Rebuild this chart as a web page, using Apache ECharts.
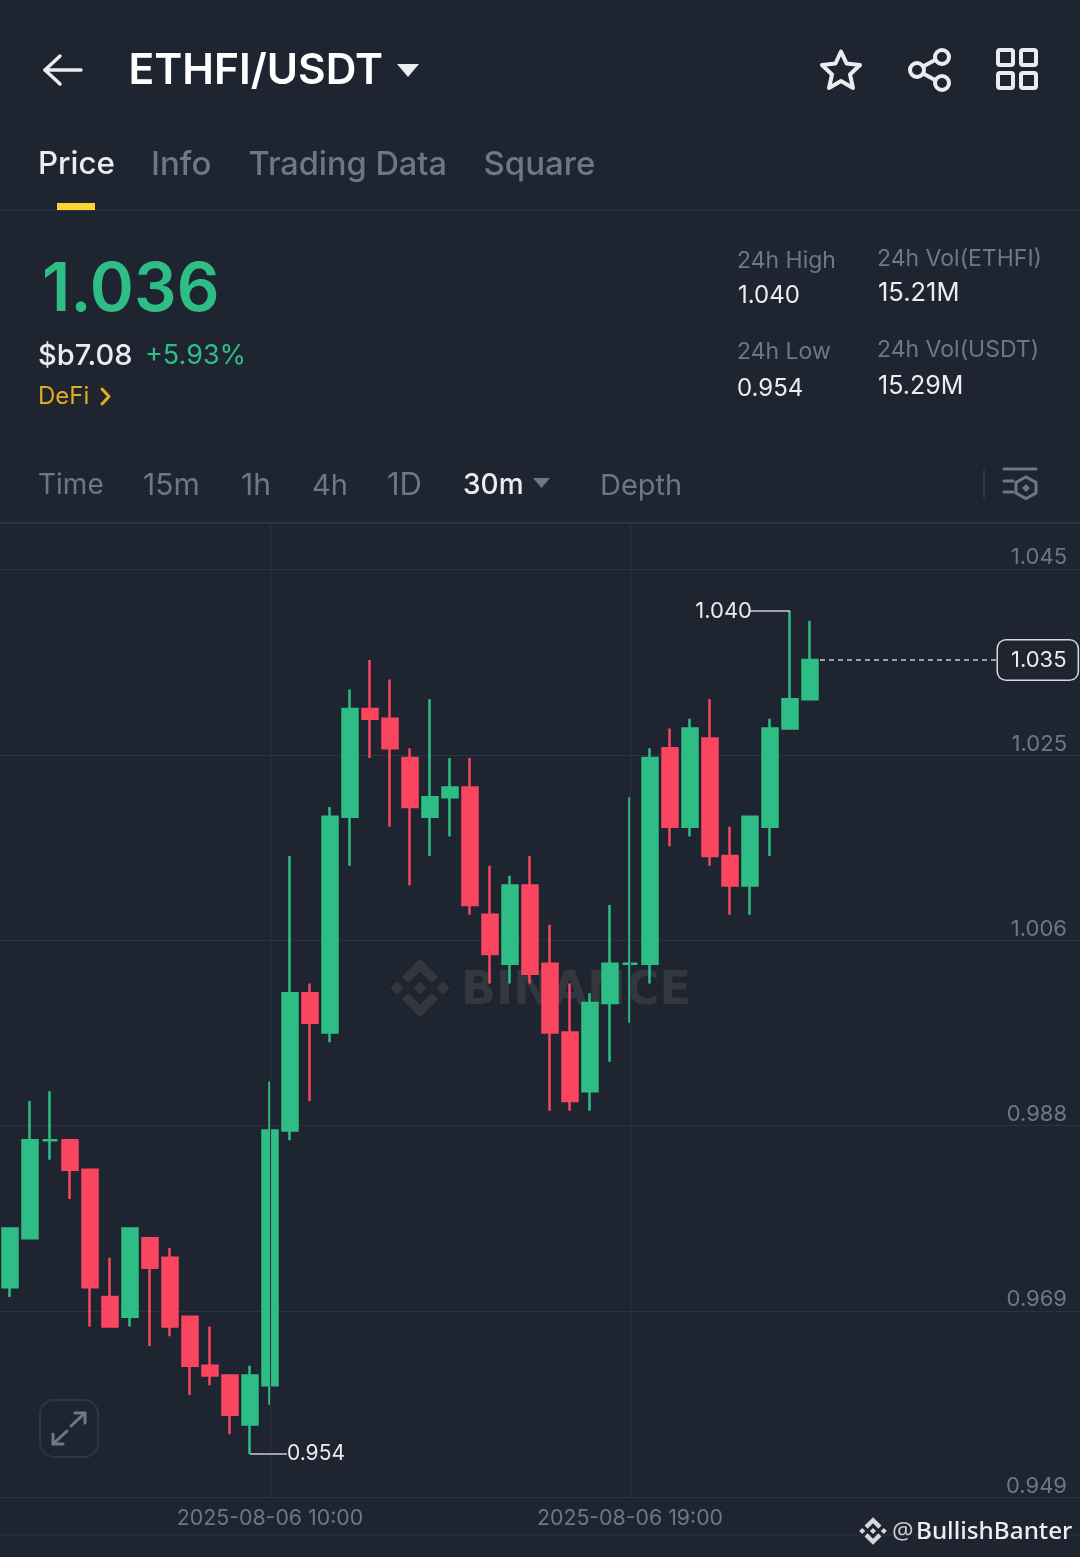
<!DOCTYPE html>
<html><head><meta charset="utf-8">
<style>html,body{margin:0;padding:0;background:#1E2530}#c{width:1080px;height:1557px}</style>
<script src="https://cdn.jsdelivr.net/npm/echarts@6/dist/echarts.min.js"></script></head>
<body><div id="c"></div><script>
const categories=['2025-08-06 03:30','2025-08-06 04:00','2025-08-06 04:30','2025-08-06 05:00','2025-08-06 05:30','2025-08-06 06:00','2025-08-06 06:30','2025-08-06 07:00','2025-08-06 07:30','2025-08-06 08:00','2025-08-06 08:30','2025-08-06 09:00','2025-08-06 09:30','2025-08-06 10:00','2025-08-06 10:30','2025-08-06 11:00','2025-08-06 11:30','2025-08-06 12:00','2025-08-06 12:30','2025-08-06 13:00','2025-08-06 13:30','2025-08-06 14:00','2025-08-06 14:30','2025-08-06 15:00','2025-08-06 15:30','2025-08-06 16:00','2025-08-06 16:30','2025-08-06 17:00','2025-08-06 17:30','2025-08-06 18:00','2025-08-06 18:30','2025-08-06 19:00','2025-08-06 19:30','2025-08-06 20:00','2025-08-06 20:30','2025-08-06 21:00','2025-08-06 21:30','2025-08-06 22:00','2025-08-06 22:30','2025-08-06 23:00','2025-08-06 23:30','2025-08-07 00:00','2025-08-07 00:30','2025-08-07 01:00','2025-08-07 01:30','2025-08-07 02:00','2025-08-07 02:30','2025-08-07 03:00','2025-08-07 03:30','2025-08-07 04:00','2025-08-07 04:30','2025-08-07 05:00','2025-08-07 05:30','2025-08-07 06:00'];
const opens =[.971,.976,.986,.986,.983,.970,.968,.976,.974,.968,.963,.962,.957,.961,.987,1.001,.997,1.019,1.030,1.029,1.025,1.019,1.021,1.022,1.009,1.004,1.012,1.004,.997,.991,1.000,1.004,1.004,1.026,1.018,1.027,1.015,1.012,1.018,1.028,1.031];
const closes=[.977,.986,.986,.983,.971,.967,.977,.973,.967,.963,.962,.958,.962,.987,1.001,.998,1.019,1.030,1.029,1.026,1.020,1.021,1.022,1.010,1.005,1.012,1.003,.997,.990,1.000,1.004,1.004,1.025,1.018,1.028,1.015,1.012,1.019,1.028,1.031,1.035];
const lows  =[.970,.976,.984,.980,.967,.967,.967,.965,.966,.960,.961,.956,.954,.959,.986,.990,.996,1.014,1.025,1.018,1.012,1.015,1.017,1.009,1.002,1.002,1.002,.989,.989,.989,.994,.998,1.002,1.016,1.017,1.014,1.009,1.009,1.015,1.028,1.031];
const highs =[.977,.990,.991,.986,.983,.974,.977,.976,.975,.968,.967,.962,.963,.992,1.015,1.002,1.020,1.032,1.035,1.033,1.026,1.031,1.025,1.025,1.014,1.013,1.015,1.008,1.002,1.001,1.010,1.021,1.026,1.028,1.029,1.031,1.018,1.019,1.029,1.040,1.039];
const priceTicks=[.9496,.9686,.9875,1.0064,1.0253,1.0443];
const priceTickLabels=['0.949','0.969','0.988','1.006','1.025','1.045'];
const timeTickLabels=['2025-08-06 10:00','2025-08-06 19:00'];
const highPrice=1.040, lowPrice=.954, lastPrice=1.035;

const BG='#1E2530',UP='#2EBD85',DOWN='#F9455F',GRID='#2C333E',MUTED='#6E7783',LIGHT='#EAECEF';
const F='Inter, "Noto Sans", sans-serif';
function T(x,y,text,size,fill,weight,extra){return Object.assign({type:'text',x,y,z:5,style:{text,fontSize:size,fill,fontWeight:weight||400,fontFamily:F,textVerticalAlign:'middle',verticalAlign:'middle'}},extra||{});}
function L(pts,stroke,w){return {type:'polyline',z:5,shape:{points:pts},style:{stroke,lineWidth:w,fill:null,lineCap:'round',lineJoin:'round'}};}
function HL(y,c,x0,x1,w){return {type:'line',z:1,shape:{x1:x0||0,y1:y,x2:x1||1080,y2:y},style:{stroke:c,lineWidth:w||1}};}
function logo(cx,cy,s,fill,z){
  const p=a=>a.map(q=>[cx+q[0]*s,cy+q[1]*s]);
  const shapes=[[[0,-6.5],[6.5,0],[0,6.5],[-6.5,0]],[[-23,-6.5],[-16.5,0],[-23,6.5],[-29.5,0]],[[23,-6.5],[29.5,0],[23,6.5],[16.5,0]],
   [[0,-29.5],[18,-11.5],[11.5,-5],[0,-16.5],[-11.5,-5],[-18,-11.5]],[[0,29.5],[18,11.5],[11.5,5],[0,16.5],[-11.5,5],[-18,11.5]]];
  return shapes.map(a=>({type:'polygon',z,shape:{points:p(a)},style:{fill}}));
}
const graphics=[
 L([[60,56],[45,70],[60,84]],'#EAECEF',3.5),L([[45,70],[81,70]],'#EAECEF',3.5),
 T(128.5,71.5,'ETHFI/USDT',42.5,'#FFFFFF',600),
 {type:'polygon',z:5,shape:{points:[[397,64],[419,64],[408,77]]},style:{fill:LIGHT}},
 {type:'polygon',z:5,shape:{points:[[841,51.5],[846.5,63.5],[860,65],[850,74.5],[853,88],[841,81],[829,88],[832,74.5],[822,65],[835.5,63.5]]},style:{fill:null,stroke:LIGHT,lineWidth:4,lineJoin:'round'}},
 {type:'circle',z:5,shape:{cx:917,cy:70,r:7},style:{fill:null,stroke:LIGHT,lineWidth:4}},
 {type:'circle',z:5,shape:{cx:942,cy:57,r:7},style:{fill:null,stroke:LIGHT,lineWidth:4}},
 {type:'circle',z:5,shape:{cx:942,cy:83,r:7},style:{fill:null,stroke:LIGHT,lineWidth:4}},
 L([[924,66],[935,60]],LIGHT,4),L([[924,74],[935,80]],LIGHT,4),
 ...[[998,50],[1021,50],[998,73],[1021,73]].map(q=>({type:'rect',z:5,shape:{x:q[0],y:q[1],width:15,height:15,r:2},style:{fill:null,stroke:LIGHT,lineWidth:4}})),
 T(38,165,'Price',31.3,LIGHT,500),T(151,165,'Info',33,MUTED,500),T(248.5,165,'Trading Data',32.5,MUTED,500),T(483.5,165,'Square',33,MUTED,500),
 {type:'rect',z:5,shape:{x:57,y:203,width:38,height:7},style:{fill:'#FCD535'}},
 HL(210.5,'#2C333E'),
 T(42,291,'1.036',67,UP,600),
 T(38,356,'$b7.08',29,LIGHT,500),T(145,356,'+5.93%',27,UP,400),
 T(38,397,'DeFi',24,'#E2AC1B',400),L([[102,389],[109,396.5],[102,404]],'#E2AC1B',3),
 T(737,261,'24h High',23,MUTED),T(738,296,'1.040',24,LIGHT),T(737,352,'24h Low',23,MUTED),T(737,389,'0.954',24,LIGHT),
 T(877,259,'24h Vol(ETHFI)',23,MUTED),T(878,293,'15.21M',25.5,LIGHT),T(877,350,'24h Vol(USDT)',23,MUTED),T(878,386,'15.29M',25,LIGHT),
 T(38,486,'Time',28,MUTED),T(143,486,'15m',30,MUTED),T(241,486,'1h',30,MUTED),T(312,486,'4h',29,MUTED),T(387,486,'1D',31,MUTED),
 T(463,486,'30m',28,LIGHT,500),{type:'polygon',z:5,shape:{points:[[533,478],[550,478],[541.5,488]]},style:{fill:MUTED}},
 T(600,486,'Depth',29,MUTED),
 {type:'rect',z:5,shape:{x:983,y:470,width:2,height:28},style:{fill:'#323944'}},
 L([[1004,469],[1036,469]],MUTED,3),L([[1004,481],[1013,481]],MUTED,3),L([[1004,492],[1013,492]],MUTED,3),
 {type:'polygon',z:5,shape:{points:[[1026,477],[1036,482.5],[1036,493],[1026,498.5],[1016,493],[1016,482.5]]},style:{fill:null,stroke:MUTED,lineWidth:3}},
 {type:'polygon',z:5,shape:{points:[[1026,484],[1030,488],[1026,492],[1022,488]]},style:{fill:MUTED}},
 HL(523,'#2C333E',0,1080,2),HL(1535,'#2A313B'),
 ...logo(420,988,1,'#33383F',1),
 {type:'text',x:461,y:992,z:1,style:{text:'BINANCE',fontSize:46,fontWeight:700,fill:'#33383F',fontFamily:'"DejaVu Sans"',verticalAlign:'middle',textVerticalAlign:'middle'}},
 {type:'rect',z:5,shape:{x:40,y:1400,width:58,height:57,r:14},style:{fill:null,stroke:'#2F3641',lineWidth:2}},
 L([[71,1426],[85,1413]],MUTED,3),L([[75,1413],[85,1413],[85,1423]],MUTED,3),L([[67,1431],[53,1444]],MUTED,3),L([[53,1434],[53,1444],[63,1444]],MUTED,3),
 ...logo(873,1531,.47,'#D5D7DB',6),
 {type:'text',x:892,y:1532,z:6,style:{text:'@',fontSize:24,fill:'#C9CBCF',fontFamily:'"Noto Sans"',verticalAlign:'middle',textVerticalAlign:'middle'}},
 {type:'text',x:916,y:1532,z:6,style:{text:'BullishBanter',fontSize:24.3,fontWeight:500,fill:'#EDEEF0',fontFamily:'"Noto Sans"',verticalAlign:'middle',textVerticalAlign:'middle'}}
];
const candles=opens.map((o,i)=>[o,closes[i],lows[i],highs[i]]);
const chart=echarts.init(document.getElementById('c'),null,{renderer:'canvas'});
chart.setOption({
 animation:false,backgroundColor:BG,
 grid:{left:0,right:0,top:523,bottom:60},
 xAxis:{type:'category',data:categories,boundaryGap:true,axisLine:{show:false},axisTick:{show:false},splitLine:{show:false},
  axisLabel:{interval:(i,v)=>timeTickLabels.includes(v),color:MUTED,fontSize:21.3,fontFamily:F,margin:11}},
 yAxis:{type:'value',position:'right',min:.9496,max:1.04898,scale:true,axisLine:{show:false},
  axisTick:{show:false,customValues:priceTicks},
  splitLine:{show:true,showMinLine:true,lineStyle:{color:GRID,width:1}},
  axisLabel:{inside:true,customValues:priceTicks,showMinLabel:true,margin:13,color:MUTED,fontSize:22,fontFamily:F,verticalAlign:'bottom',padding:[0,0,0,0],
    formatter:v=>priceTickLabels[priceTicks.findIndex(t=>Math.abs(t-v)<1e-6)]||''}},
 graphic:graphics,
 series:[
  {type:'line',data:[],z:1,silent:true,markLine:{silent:true,symbol:'none',label:{show:false},lineStyle:{color:GRID,width:1,type:'solid'},data:timeTickLabels.map(t=>({xAxis:t}))}},
  {type:'candlestick',z:3,barWidth:15.5,data:candles,
   itemStyle:{color:UP,color0:DOWN,borderColor:UP,borderColor0:DOWN,borderColorDoji:UP,borderWidth:2.5},
   markLine:{silent:true,symbol:'none',animation:false,data:[
    [{coord:[categories[39],highPrice]},{coord:[categories[37],highPrice],lineStyle:{color:'#C9CCD1',width:1.5,type:'solid'},label:{show:true,position:'end',formatter:highPrice.toFixed(3),color:LIGHT,fontSize:22,fontFamily:F,distance:-2}}],
    [{coord:[categories[12],lowPrice]},{coord:[categories[14],lowPrice],x:287,lineStyle:{color:'#C9CCD1',width:1.5,type:'solid'},label:{show:true,position:'end',formatter:lowPrice.toFixed(3),color:LIGHT,fontSize:21,fontFamily:F,distance:0}}],
    [{coord:[categories[41],lastPrice],x:820},{coord:[categories[53],lastPrice],x:998,lineStyle:{color:'#C9CCD1',width:1.5,type:[5,4]},label:{show:true,position:'end',formatter:lastPrice.toFixed(3),color:LIGHT,fontSize:22,fontFamily:F,distance:0,backgroundColor:BG,borderColor:'#D6D9DD',borderWidth:1.5,borderRadius:8,padding:[10,11,7,13]}}]
   ]}}
 ]
});
</script></body></html>
